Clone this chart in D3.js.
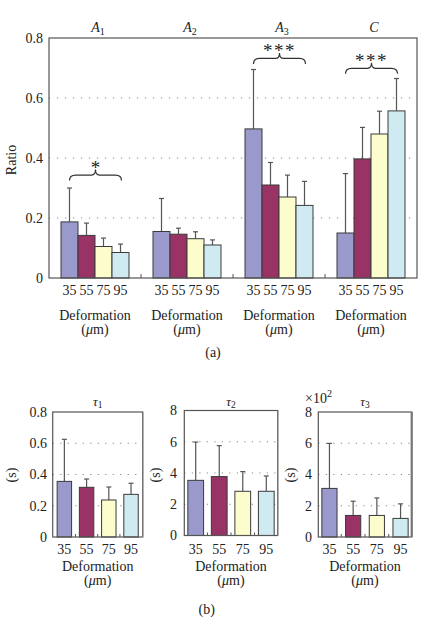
<!DOCTYPE html>
<html><head><meta charset="utf-8">
<script src="https://cdn.jsdelivr.net/npm/d3@7"></script>
<style>
body{margin:0;background:#fff}
svg{display:block}
text{font-family:"Liberation Serif","DejaVu Serif",serif;fill:#222}
</style>
</head><body><svg id="c" width="430" height="623" font-family="Liberation Serif, serif"></svg>
<script>
// ---------- data ----------
const groups = ["A1","A2","A3","C"];
const groupLetters = ["A","A","A","C"];
const groupSubs = ["1","2","3",""];
const deformations = ["35","55","75","95"];
const ratioMean = [
  [0.187,0.142,0.105,0.085],
  [0.155,0.146,0.131,0.110],
  [0.497,0.310,0.270,0.242],
  [0.150,0.397,0.480,0.557]
];
const ratioSD = [
  [0.113,0.041,0.028,0.028],
  [0.110,0.020,0.023,0.017],
  [0.198,0.075,0.073,0.080],
  [0.198,0.105,0.076,0.108]
];
const ratioTicks = [0,0.2,0.4,0.6,0.8];
const sigGroups = ["A1","A3","C"];
const sigLabels = ["*","***","***"];
const sigLevels = [0.343,0.732,0.699];

const tauSubs = ["1","2","3"];
const tauMean = [
  [0.356,0.318,0.237,0.273],
  [3.53,3.77,2.83,2.83],
  [3.11,1.38,1.38,1.19]
];
const tauSD = [
  [0.269,0.053,0.083,0.071],
  [2.45,1.98,1.26,0.98],
  [2.88,0.91,1.12,0.93]
];
const tauTicks = [
  [0,0.2,0.4,0.6,0.8],
  [0,2,4,6,8],
  [0,2,4,6,8]
];
const colors = ["#9999cc","#993366","#fcfccc","#cfeaf0"];

// ---------- drawing ----------
const svg = d3.select("#c");
const frameColor = "#555";
const barStroke = "#3a3a3a";
const errColor = "#555";

function muLabel(g, x, y, size){
  const t = g.append("text").attr("x", x).attr("y", y).attr("text-anchor","middle").attr("font-size", size);
  t.append("tspan").text("(");
  t.append("tspan").attr("font-style","italic").text("\u03bc");
  t.append("tspan").text("m)");
}

// ===== panel (a) =====
const P = {l:49, r:417, t:38, b:278};
const y = d3.scaleLinear().domain([0,0.8]).range([P.b, P.t]);
const xg = d3.scaleBand().domain(groups).range([P.l, P.r]);
const xb = d3.scaleBand().domain(deformations).range([0, xg.bandwidth()]).paddingOuter(0.706);

const ga = svg.append("g");
ga.selectAll("line.grid").data(ratioTicks.filter(v => v > 0 && v < 0.8)).join("line")
  .attr("x1", P.l).attr("x2", P.r).attr("y1", d => y(d)).attr("y2", d => y(d))
  .attr("stroke","#888").attr("stroke-width",1).attr("stroke-dasharray","1.2,6.8");

groups.forEach((g, gi) => {
  const gg = ga.append("g").attr("transform", `translate(${xg(g)},0)`);
  deformations.forEach((d, di) => {
    const m = ratioMean[gi][di], s = ratioSD[gi][di];
    const cx = xb(d) + xb.bandwidth()/2;
    gg.append("line").attr("x1", cx).attr("x2", cx).attr("y1", y(m)).attr("y2", y(m+s))
      .attr("stroke", errColor).attr("stroke-width",1.2);
    gg.append("line").attr("x1", cx-2.5).attr("x2", cx+2.5).attr("y1", y(m+s)).attr("y2", y(m+s))
      .attr("stroke", errColor).attr("stroke-width",1.2);
    gg.append("rect").attr("x", xb(d)).attr("y", y(m)).attr("width", xb.bandwidth()).attr("height", y(0)-y(m))
      .attr("fill", colors[di]).attr("stroke", barStroke).attr("stroke-width",1);
    gg.append("text").attr("x", cx).attr("y", 295).attr("text-anchor","middle").attr("font-size",14).text(d);
  });
  const cxg = xg(g) + xg.bandwidth()/2;
  ga.append("text").attr("x", cxg).attr("y", 320).attr("text-anchor","middle").attr("font-size",14).text("Deformation");
  muLabel(ga, cxg, 334, 14);
  const lt = ga.append("text").attr("x", cxg + 3).attr("y", 32).attr("text-anchor","middle").attr("font-size",14);
  lt.append("tspan").attr("font-style","italic").text(groupLetters[gi]);
  if (groupSubs[gi]) lt.append("tspan").attr("font-size",10).attr("dy",3).text(groupSubs[gi]);
});

ga.append("rect").attr("x",P.l).attr("y",P.t).attr("width",P.r-P.l).attr("height",P.b-P.t)
  .attr("fill","none").attr("stroke",frameColor).attr("stroke-width",1.2);
groups.slice(1).forEach(g => {
  ga.append("line").attr("x1", xg(g)).attr("x2", xg(g)).attr("y1", P.b).attr("y2", P.b-4)
    .attr("stroke", frameColor).attr("stroke-width",1);
});
ga.selectAll("text.yt").data(ratioTicks).join("text")
  .attr("x", 43).attr("y", d => y(d)).attr("dy","0.35em").attr("text-anchor","end").attr("font-size",14)
  .text(d => d === 0 ? "0" : d3.format(".1f")(d));
ga.append("text").attr("transform","translate(16,160) rotate(-90)").attr("text-anchor","middle")
  .attr("font-size",14).text("Ratio");

sigGroups.forEach((g, i) => {
  const x0 = xg(g) + xb(deformations[0]) + xb.bandwidth()/2;
  const x1 = xg(g) + xb(deformations[3]) + xb.bandwidth()/2 + 1;
  const xc = (x0 + x1)/2;
  const yh = y(sigLevels[i]);
  const yb = yh + 5.5, yt = yh - 5.5;
  const p = `M${x0},${yb} Q${x0},${yh} ${x0+6},${yh} L${xc-4},${yh} Q${xc},${yh} ${xc},${yt} Q${xc},${yh} ${xc+4},${yh} L${x1-6},${yh} Q${x1},${yh} ${x1},${yb}`;
  ga.append("path").attr("d", p).attr("fill","none").attr("stroke","#333").attr("stroke-width",1.2);
  ga.append("text").attr("x", xc).attr("y", yt + 4).attr("text-anchor","middle").attr("font-size",19)
    .attr("letter-spacing", sigLabels[i].length > 1 ? 1.5 : 0)
    .attr("fill","#444").text(sigLabels[i]);
});

ga.append("text").attr("x",213).attr("y",357).attr("text-anchor","middle").attr("font-size",14).text("(a)");

// ===== panel (b) =====
const panels = [
  {l:52.7, r:142.7, t:412, b:537, pi:0.35, po:0.2, lx:47, sx:16, rw:1.2, fmt: d => d===0?"0":d3.format(".1f")(d)},
  {l:184.3, r:277.7, t:410.5, b:535.5, pi:0.33, po:0.15, lx:177, sx:160, rw:1.2, fmt: d => String(d)},
  {l:318.3, r:411.7, t:412, b:537, pi:0.36, po:0.15, lx:312, sx:295, rw:2.2, fmt: d => String(d)}
];
panels.forEach((pp, k) => {
  const g = svg.append("g");
  const yy = d3.scaleLinear().domain([0, tauTicks[k][tauTicks[k].length-1]]).range([pp.b, pp.t]);
  const xx = d3.scaleBand().domain(deformations).range([pp.l, pp.r]).paddingInner(pp.pi).paddingOuter(pp.po);
  g.selectAll("line.grid").data(tauTicks[k].slice(1, -1)).join("line")
    .attr("x1", pp.l).attr("x2", pp.r).attr("y1", d => yy(d)).attr("y2", d => yy(d))
    .attr("stroke","#888").attr("stroke-width",1).attr("stroke-dasharray","1.2,6.3");
  deformations.forEach((d, di) => {
    const m = tauMean[k][di], s = tauSD[k][di];
    const cx = xx(d) + xx.bandwidth()/2;
    g.append("line").attr("x1", cx).attr("x2", cx).attr("y1", yy(m)).attr("y2", yy(m+s))
      .attr("stroke", errColor).attr("stroke-width",1.2);
    g.append("line").attr("x1", cx-2.5).attr("x2", cx+2.5).attr("y1", yy(m+s)).attr("y2", yy(m+s))
      .attr("stroke", errColor).attr("stroke-width",1.2);
    g.append("rect").attr("x", xx(d)).attr("y", yy(m)).attr("width", xx.bandwidth()).attr("height", yy(0)-yy(m))
      .attr("fill", colors[di]).attr("stroke", barStroke).attr("stroke-width",1);
    g.append("text").attr("x", cx).attr("y", 553.5).attr("text-anchor","middle").attr("font-size",14).text(d);
    if (di > 0) {
      const bx = xx(d) - xx.step()*xx.paddingInner()/2;
      g.append("line").attr("x1", bx).attr("x2", bx).attr("y1", pp.b).attr("y2", pp.b-3)
        .attr("stroke", frameColor).attr("stroke-width",1);
    }
  });
  g.append("rect").attr("x",pp.l).attr("y",pp.t).attr("width",pp.r-pp.l).attr("height",pp.b-pp.t)
    .attr("fill","none").attr("stroke",frameColor).attr("stroke-width",1.2);
  g.append("line").attr("x1",pp.r).attr("x2",pp.r).attr("y1",pp.t).attr("y2",pp.b)
    .attr("stroke","#777").attr("stroke-width",pp.rw);
  g.selectAll("text.yt").data(tauTicks[k]).join("text")
    .attr("x", pp.lx).attr("y", d => yy(d)).attr("dy","0.35em").attr("text-anchor","end").attr("font-size",14)
    .text(pp.fmt);
  g.append("text").attr("transform",`translate(${pp.sx},475) rotate(-90)`).attr("text-anchor","middle")
    .attr("font-size",14).text("(s)");
  const cx = (pp.l + pp.r)/2;
  g.append("text").attr("x", cx).attr("y", 571).attr("text-anchor","middle").attr("font-size",14).text("Deformation");
  muLabel(g, cx, 585, 14);
  const tt = g.append("text").attr("x", cx).attr("y", 405.5).attr("text-anchor","middle").attr("font-size",13);
  tt.append("tspan").attr("font-style","italic").text("\u03c4");
  tt.append("tspan").attr("font-size",9.5).attr("dy",2.5).text(tauSubs[k]);
  if (k === 2) {
    const sc = g.append("text").attr("x", 305).attr("y", 403).attr("font-size",14);
    sc.append("tspan").text("\u00d710");
    sc.append("tspan").attr("font-size",10).attr("dy",-6).text("2");
  }
});
svg.append("text").attr("x",206.7).attr("y",614).attr("text-anchor","middle").attr("font-size",14).text("(b)");
</script>
</body></html>
